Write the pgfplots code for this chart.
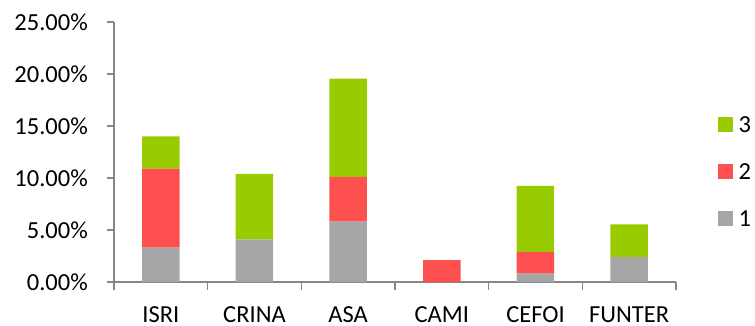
\documentclass[border=0pt]{standalone}
\usepackage{pgfplots}
\pgfplotsset{compat=1.18}
\usepackage{pgfplotstable}
\usepackage{fontspec}
\setmainfont{Carlito}

\definecolor{serA}{HTML}{A6A6A6}
\definecolor{serB}{HTML}{FF5050}
\definecolor{serC}{HTML}{99CC00}
\definecolor{axgray}{HTML}{868686}

\newcommand\chartfont{\fontsize{24.5bp}{29bp}\selectfont}

% share of each series per institution (percent)
\pgfplotstableread{
x  s1    s2    s3
0  3.3   7.6   3.1
1  4.1   0     6.3
2  5.8   4.3   9.45
3  0     2.1   0
4  0.8   2.1   6.35
5  2.4   0     3.15
}\datatable

\begin{document}
\begin{tikzpicture}
\begin{axis}[
  scale only axis,
  width=562bp, height=260bp,
  at={(0,0)}, anchor=south west,
  ybar stacked,
  bar width=37.5bp,
  xmin=-0.5, xmax=5.5,
  ymin=0, ymax=25,
  axis x line*=bottom,
  axis y line*=left,
  axis line style={axgray, line width=1.6bp},
  every tick/.style={axgray, line width=1.6bp},
  tick align=outside,
  xtick={0,...,5},
  xticklabels={ISRI,CRINA,ASA,CAMI,CEFOI,FUNTER},
  major x tick style={draw=none},
  minor xtick={-0.5,0.5,...,5.5},
  minor tick length=8bp,
  ytick={0,5,...,25},
  major tick length=7bp,
  /pgf/number format/assume math mode=true,
  yticklabel={\pgfmathprintnumber[fixed,fixed zerofill,precision=2]{\tick}\%},
  yticklabel style={font=\chartfont, inner sep=0pt, xshift=-19bp},
  xticklabel style={font=\chartfont, inner sep=0pt, text height=16bp, text depth=0pt, anchor=north, yshift=-17.5bp},
  legend style={
    at={(1.0747,0.6385)}, anchor=north west,
    draw=none, fill=none, inner sep=0pt,
    row sep=31bp, column sep=5.5bp,
    nodes={inner sep=0pt, text height=16bp, text depth=0pt, font=\chartfont},
  },
  legend cell align=left,
  reverse legend,
  legend image code/.code={\fill[#1] (0bp,-7.5bp) rectangle (15bp,7.5bp);},
  clip=false,
]
\addplot[fill=serA, draw=none] table[x=x, y=s1] {\datatable};
\addplot[fill=serB, draw=none] table[x=x, y=s2] {\datatable};
\addplot[fill=serC, draw=none] table[x=x, y=s3] {\datatable};
\legend{1,2,3}
\end{axis}
\pgfresetboundingbox
\path[use as bounding box] (-114bp,-44bp) rectangle (641bp,282bp);
\end{tikzpicture}
\end{document}
